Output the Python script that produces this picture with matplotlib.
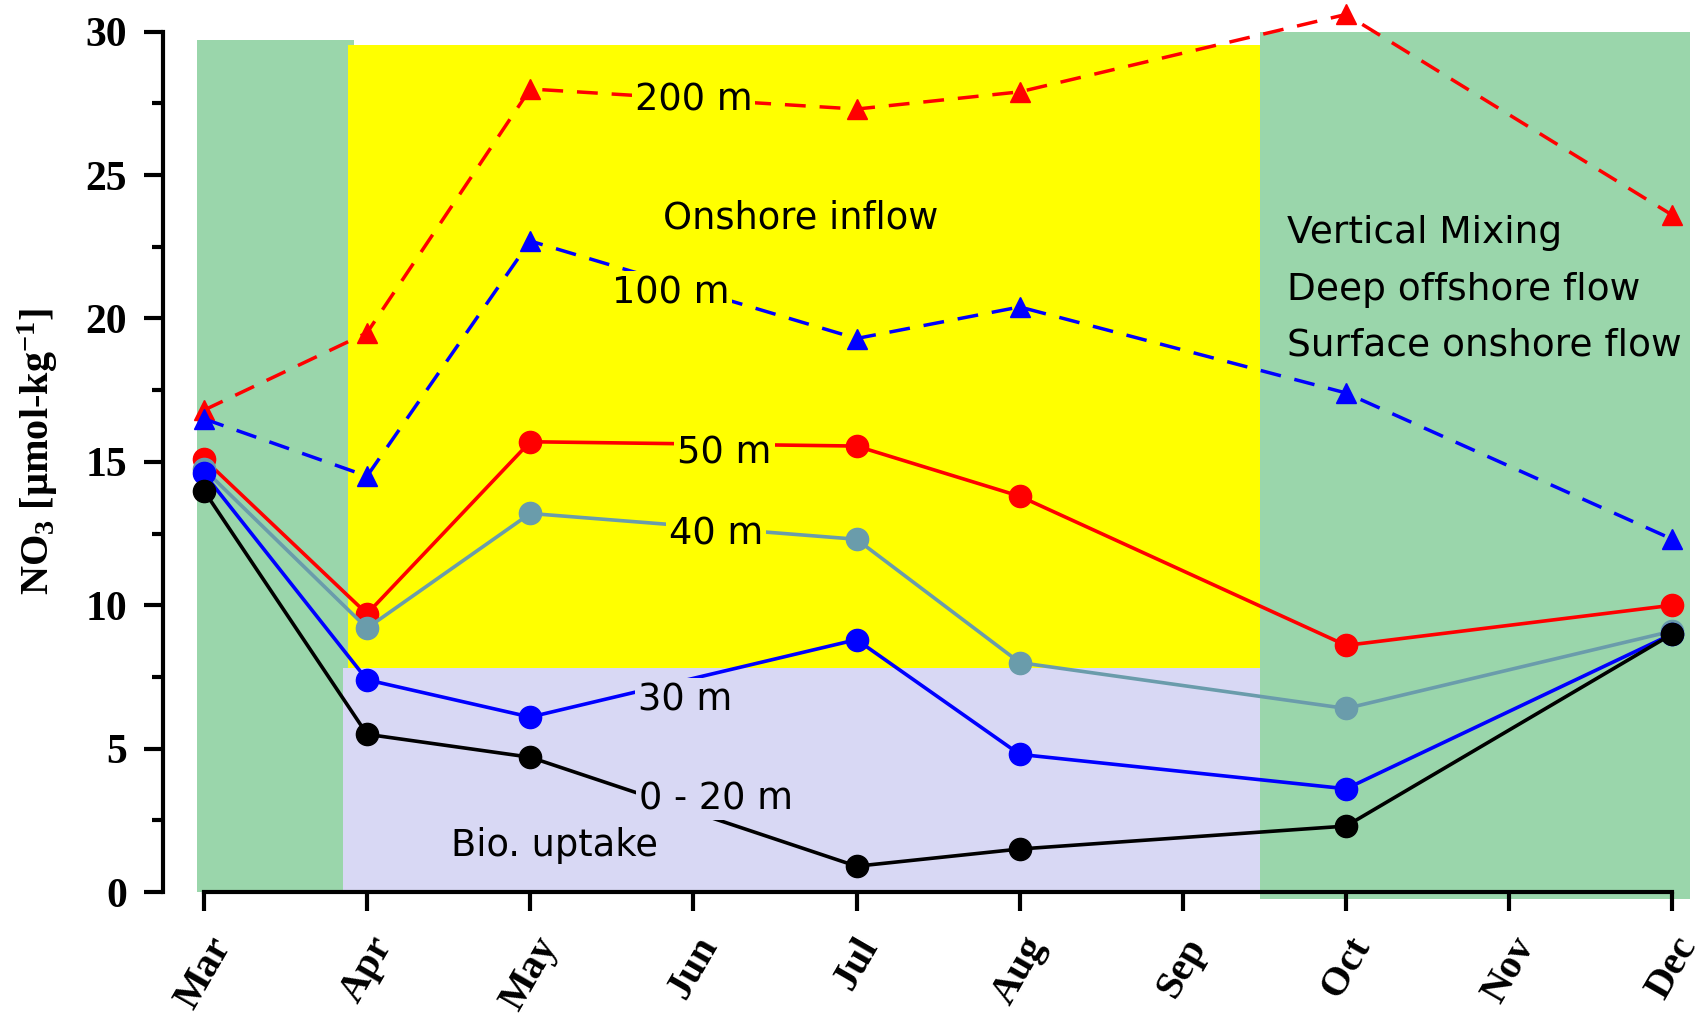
import numpy as np
import matplotlib
matplotlib.use('Agg')
import matplotlib.pyplot as plt
from matplotlib.ticker import MultipleLocator

plt.rcParams['mathtext.fontset'] = 'custom'
plt.rcParams['mathtext.rm'] = 'Liberation Serif:bold'
plt.rcParams['mathtext.default'] = 'rm'

# 月份（3月为0）
month_labels = ['Mar', 'Apr', 'May', 'Jun', 'Jul', 'Aug', 'Sep', 'Oct', 'Nov', 'Dec']
sample_months = [0, 1, 2, 4, 5, 7, 9]

# 各深度硝酸盐浓度 (µmol/kg)
no3_200m = [16.8, 19.5, 28.0, 27.3, 27.9, 30.6, 23.6]
no3_100m = [16.5, 14.5, 22.7, 19.3, 20.4, 17.4, 12.3]
no3_50m = [15.1, 9.7, 15.7, 15.55, 13.8, 8.6, 10.0]
no3_40m = [14.75, 9.2, 13.2, 12.3, 8.0, 6.4, 9.1]
no3_30m = [14.6, 7.4, 6.1, 8.8, 4.8, 3.6, 9.0]
no3_0_20m = [14.0, 5.5, 4.7, 0.9, 1.5, 2.3, 9.0]

# 过程分区: (x0, x1, y0, y1, 颜色)
green = '#9ad6ab'
yellow = '#ffff00'
lavender = '#d8d8f4'
regions = [
    (-0.04, 0.92, 0.0, 29.7, green),
    (6.47, 9.11, -0.25, 30.0, green),
    (0.886, 6.47, 7.82, 29.53, yellow),
    (0.85, 6.47, 0.0, 7.82, lavender),
]

fig = plt.figure(figsize=(17.02, 10.14), dpi=100)
ax = fig.add_axes([0.0958, 0.1118, 0.9012, 0.8853])
ax.set_xlim(-0.25, 9.15)
ax.set_ylim(-0.3, 31.0)

for x0, x1, y0, y1, c in regions:
    ax.fill_between([x0, x1], y0, y1, color=c, lw=0, zorder=0.5)

dash = dict(lw=2.5, dashes=(6, 4), marker='^', ms=15, clip_on=False, zorder=3)
solid = dict(lw=2.6, marker='o', ms=16, clip_on=False, zorder=3)
ax.plot(sample_months, no3_200m, color='#ff0000', **dash)
ax.plot(sample_months, no3_100m, color='#0000ff', **dash)
ax.plot(sample_months, no3_50m, color='#ff0000', **solid)
ax.plot(sample_months, no3_40m, color='#6a9cab', **solid)
ax.plot(sample_months, no3_30m, color='#0000ff', **solid)
ax.plot(sample_months, no3_0_20m, color='#000000', **solid)

# 曲线标注
lab = dict(fontsize=26.5, family='DejaVu Sans', ha='center', va='center', zorder=4)
for txt, x, y, bg in [('200 m', 3.0, 27.6, yellow), ('100 m', 2.86, 20.9, yellow),
                      ('50 m', 3.19, 15.3, yellow), ('40 m', 3.14, 12.5, yellow),
                      ('30 m', 2.95, 6.7, lavender), ('0 - 20 m', 3.14, 3.25, lavender)]:
    ax.text(x, y, txt, bbox=dict(facecolor=bg, edgecolor='none', pad=2), **lab)

ax.text(2.15, 1.63, 'Bio. uptake', **lab)
ax.text(3.66, 23.5, 'Onshore inflow', **lab)
for txt, y in [('Vertical Mixing', 22.97), ('Deep offshore flow', 21.0),
               ('Surface onshore flow', 19.07)]:
    ax.text(6.64, y, txt, fontsize=27, family='DejaVu Sans', ha='left', va='center', zorder=4)

# 坐标轴样式
for s in ['top', 'right']:
    ax.spines[s].set_visible(False)
ax.spines['left'].set_linewidth(3)
ax.spines['left'].set_bounds(0, 30)
ax.spines['bottom'].set_linewidth(3)
ax.spines['bottom'].set_position(('data', 0))
ax.spines['bottom'].set_bounds(0, 9)
ax.spines['left'].set_zorder(5)
ax.spines['bottom'].set_zorder(5)

ax.set_yticks(range(0, 31, 5))
ax.yaxis.set_minor_locator(MultipleLocator(2.5))
ax.set_xticks(range(len(month_labels)))
ax.set_xticklabels(month_labels, rotation=60)
ax.tick_params(axis='both', which='major', length=14, width=3, direction='out')
ax.tick_params(axis='y', which='minor', length=8, width=3, direction='out')
ax.tick_params(axis='y', pad=12)
ax.tick_params(axis='x', pad=14)
for t in ax.get_yticklabels():
    t.set_fontfamily('Liberation Serif')
    t.set_fontweight('bold')
    t.set_fontsize(30)
for t in ax.get_xticklabels():
    t.set_fontfamily('Liberation Serif')
    t.set_fontweight('bold')
    t.set_fontsize(29)

ax.set_ylabel('NO$_3$ [µmol-kg$^{-1}$]', fontsize=29, family='Liberation Serif',
              fontweight='bold', labelpad=18)

fig.savefig('out.png', dpi=100)
